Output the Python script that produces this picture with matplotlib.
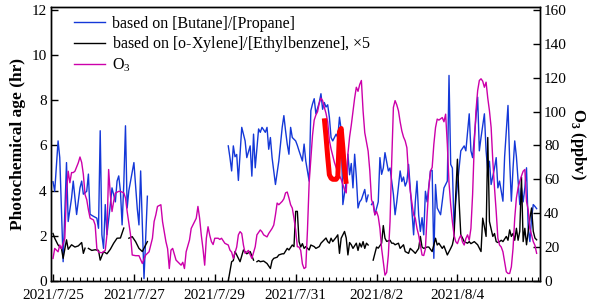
import matplotlib.pyplot as plt
import numpy as np
import pandas as pd

plt.rcParams['font.family'] = ['Liberation Serif', 'DejaVu Serif']
plt.rcParams['mathtext.fontset'] = 'custom'
plt.rcParams['mathtext.rm'] = 'Liberation Serif'
plt.rcParams['mathtext.bf'] = 'Liberation Serif:bold'

nan = np.nan
start = pd.Timestamp('2021-07-25')

# all times in hours since 2021/7/25 00:00
# [Butane]/[Propane] photochemical age (hr)
bp_hours = [0, 1, 3, 4, 6, 8, 9, 11, 12, 14, 16, 17, 18, 20, 21, 22, 24, 26, 27, 28,
            29, 30, 31, 32, 34, 35, 37, 38, 39, 40, 41, 42, 43, 44, 45, 48, 50, 51, 52, 54, 56,
            80,
            104, 105, 106, 107, 108, 109, 110, 112, 114, 115, 117, 118, 119, 120, 122, 123, 124, 126, 127, 128,
            129, 130, 132, 134, 136, 137, 138, 139, 140, 141, 142, 144, 145, 146, 148, 149, 150, 152, 153, 154,
            155, 156, 158, 159, 160, 161, 162, 163, 164, 165, 166, 168, 169, 170, 171, 172, 174, 175, 176, 177,
            178, 179, 180, 181, 182, 183, 185, 186, 187,
            188,
            189, 190, 191, 193, 194, 195, 196, 197, 199, 200, 201, 202, 203, 204, 206, 207, 208, 209, 210, 211,
            212, 214, 215, 216, 217, 218, 219, 220, 221, 222, 224, 225, 226, 227, 228, 230, 232, 233, 234, 235,
            236, 237, 238, 239, 240, 242, 244, 245, 247, 248, 249, 250, 252, 253, 254, 256, 257, 258, 259, 260,
            262, 263, 264, 265, 267, 268, 270, 271, 272, 273, 274, 275, 277, 278, 279, 280, 281, 282, 283, 284,
            285, 286, 287]
bp_vals = [4.39, 3.97, 6.2, 5.46, 0.85, 5.24, 2.63, 3.67, 4.42, 2.94, 4.12, 4.42, 3.84, 3.97, 4.73, 2.95, 2.86, 2.78, 2.33, 6.65,
           2.04, 1.44, 3.38, 2.05, 3.38, 4.12, 3.5, 4.42, 4.65, 3.97, 2.48, 4.3, 6.87, 3.23, 4.0, 5.24, 3.2, 2.48, 4.87, 0.1, 3.75,
           nan,
           5.98, 5.46, 4.87, 5.98, 5.5, 5.6, 4.45, 6.8, 6.2, 5.46, 5.98, 4.64, 6.5, 5.01, 6.73, 6.58, 6.8, 6.58, 6.8, 5.83,
           6.35, 5.46, 4.27, 5.31, 6.8, 7.32, 6.65, 6.06, 5.61, 6.8, 6.35, 6.2, 6.0, 5.76, 5.31, 6.06, 5.31, 4.42, 7.54, 7.84,
           8.07, 7.4, 7.9, 8.29, 7.6, 7.9, 7.7, 7.8, 7.25, 6.35, 6.2, 6.5, 6.35, 7.25, 6.7, 3.38, 4.4, 5.61, 4.7, 5.2,
           4.12, 5.61, 4.6, 3.23, 3.5, 3.6, 4.05, 3.5, 3.8,
           nan,
           3.38, 3.5, 2.93, 3.5, 5.46, 4.72, 5.0, 5.68, 4.87, 5.0, 4.42, 3.83, 2.93, 3.5, 4.87, 4.4, 4.6, 4.2, 4.4, 5.16,
           4.1, 2.04, 3.5, 4.42, 2.9, 2.19, 2.8, 2.04, 3.97, 3.5, 4.87, 4.9, 1.0, 4.27, 3.23, 2.93, 4.12, 4.27, 4.42, 9.1,
           5.16, 5.0, 2.33, 3.5, 4.27, 5.76, 5.98, 5.76, 7.4, 5.76, 5.46, 6.35, 8.14, 5.76, 6.35, 7.4, 5.76, 4.87, 5.3, 4.27,
           5.0, 5.46, 4.12, 4.42, 3.53, 5.5, 7.77, 5.3, 3.53, 5.0, 6.2, 5.5, 3.38, 4.12, 3.5, 4.12, 5.01, 2.33, 1.74, 2.8,
           3.38, 3.3, 3.2]

# [o-Xylene]/[Ethylbenzene] photochemical age x5 (hr)
xe_hours = [0, 1, 3, 5, 6, 7, 8, 9, 11, 13, 15, 17, 18, 19, 20,
            21, 23, 25, 27, 28, 30, 32, 34, 36, 38, 40, 41, 42, 43,
            45, 47, 49, 51, 53, 55, 56, 80,
            104, 106, 107, 108, 110, 111, 113, 115, 117, 119, 120,
            121, 122, 123, 125, 127, 129, 130, 131, 133, 134, 136, 137, 139, 140, 142, 143, 144, 145, 146, 147,
            148, 149, 150, 152, 153, 155, 156, 158, 159, 161, 162, 163, 164, 165, 166, 168, 169, 170, 171, 173,
            174, 175, 176, 177, 178, 180, 181, 182, 183, 184, 185, 186, 187, 188,
            190, 192, 193, 195, 196, 197, 198, 200, 201, 202, 203, 205, 206, 208, 209, 211, 212, 214, 215, 217,
            218, 219, 220, 222, 223, 225, 226, 227, 228, 229, 231, 232, 234, 236, 237, 238, 239, 240, 241, 242,
            243, 244, 246, 247, 248, 250, 252, 254, 255, 256, 257, 258, 259, 260, 261, 262, 263, 264, 265, 266,
            267, 269, 270, 271, 272, 273, 274, 275, 276, 277, 278, 279, 280, 281, 282, 283, 284, 285, 286, 287]
xe_vals = [2.1, 1.89, 1.59, 1.44, 1.0, 1.4, 1.82, 1.4, 1.6, 1.5, 1.55, 1.7, 1.22, 1.45, nan,
           1.44, 1.35, 1.38, 1.35, 0.92, 1.3, 1.2, 1.4, 1.67, 1.89, 1.9, 2.12, 2.34, nan,
           1.89, 1.96, 1.74, 1.44, 1.3, 1.59, 1.74, nan,
           0.0, 0.85, 0.9, 1.3, 1.0, 0.85, 1.37, 1.2, 1.3, 0.92, nan,
           0.85, 0.9, 0.85, 0.88, 0.77, 0.55, 0.9, 1.0, 1.05, 1.15, 1.2, 1.2, 1.44, 1.37, 1.59, 1.52, 3.08, 3.08, 1.74, 1.5,
           1.65, 1.44, 1.52, 1.37, 1.59, 1.52, 1.44, 1.52, 1.67, 1.82, 1.9, 1.74, 1.67, 1.89, 1.74, 1.93, 2.04, 1.22, 1.89, 2.19,
           1.9, 1.15, 1.7, 1.6, 1.44, 1.67, 1.35, 1.67, 1.5, 1.74, 1.44, 1.67, 1.59, nan,
           0.92, 1.5, 1.45, 1.67, 2.45, 1.89, 1.75, 1.8, 1.67, 1.67, 1.6, 1.67, 1.44, 1.6, 1.3, 1.22, 1.44, 1.3, 1.22, 1.44,
           1.97, 1.5, 1.44, 1.5, 1.5, 1.3, 1.59, 1.89, 1.59, 1.67, 1.44, 1.55, 1.15, 1.44, 1.6, 1.96, 3.83, 5.39, 3.5, 2.04,
           1.9, 1.74, 1.67, 1.74, 1.65, 1.74, 1.6, 1.3, 2.78, 2.4, 1.97, 6.35, 2.63, 2.3, 1.97, 2.1, 1.74, 1.7, 1.74, 1.8,
           1.74, 1.97, 1.8, 2.26, 1.97, 2.1, 1.8, 2.33, 1.8, 2.2, 4.6, 1.74, 2.33, 1.6, 2.2, 2.78, 3.23, 2.2, 1.9, 1.82]

# O3 (ppbv), right axis
o3_hours = [0, 1, 3, 4, 5, 7, 8, 9, 10, 11, 12, 13, 15, 16, 17, 18, 19, 20, 21, 22,
            24, 25, 26, 27, 29, 31, 32, 33, 34, 35, 36, 37, 39, 40, 42, 43, 44, 46, 47, 49,
            51, 53, 55, 57, 59, 60, 61, 62, 64, 65, 67, 68, 69, 70, 71, 73, 74, 76, 77, 78,
            79, 81, 82, 84, 85, 86, 87, 88, 89, 90, 91, 92, 93, 94, 95, 96, 98, 99, 100, 102,
            104, 105, 106, 107, 109, 110, 111, 112, 113, 114, 116, 117, 118, 120, 121, 123, 124, 125, 127, 128,
            130, 131, 132, 133, 134, 136, 137, 138, 139, 140, 141, 142, 143, 144, 145, 146, 147, 148, 149, 150,
            151, 152, 153, 154, 155, 156, 157, 158, 159, 160, 161, 162, 163, 164, 165, 166, 167, 168, 169, 170,
            171, 172, 173, 174, 175, 176, 177, 178, 179, 180, 181, 182, 183, 184, 185, 186, 187, 188, 189, 190,
            191, 192, 193, 194, 195, 196, 197, 198, 199, 200, 201, 202, 203, 204, 205, 206, 207, 208, 209, 210,
            211, 212, 213, 214, 215, 216, 217, 218, 219, 220, 221, 222, 223, 224, 225, 226, 227, 228, 229, 231,
            232, 233, 234, 235, 236, 237, 238, 239, 240, 241, 242, 243, 244, 245, 246, 247, 248, 249, 250, 251,
            252, 253, 254, 255, 256, 257, 258, 259, 260, 261, 262, 263, 264, 265, 266, 267, 268, 269, 270, 271,
            272, 273, 274, 275, 276, 277, 278, 279, 280, 281, 282, 283, 284, 285, 286, 287]
o3_vals = [13.3, 19.2, 17.2, 21.2, 19, 25.2, 52.9, 64.8, 58, 64, 64, 64.8, 69.8, 73.2, 70, 62.9, 51, 48, 42, 37.1,
           36, 33.1, 19.2, 17, 16.6, 18, 27.2, 65.8, 51, 41, 47, 51.9, 52.9, 52.9, 52, 49, 41, 27.2, 15.3, 14.9,
           14.9, 10.3, 15.3, 17.2, 25.2, 35.1, 39, 44, 45, 35, 23.2, 19, 7.3, 18.2, 19.2, 12.3, 11.3, 9.3, 11, 7.3,
           17.2, 24.2, 31, 35, 37, 44, 37, 27, 19, 9.3, 25.2, 32, 27, 23.2, 21.5, 25.2, 25.2, 24.5, 25.2, 22.2,
           21.2, 18.2, 17, 13.3, 20, 27.2, 29.1, 28, 21.2, 16.3, 18, 15.5, 13.3, 20.2, 27.2, 30.1, 29, 27.2, 26, 28,
           31, 33, 39, 46, 45, 47, 48.5, 52, 52.5, 49, 45, 43, 37, 30, 20.2, 20, 18, 10, 7.3, 8,
           30, 58, 72, 86, 95, 98, 100, 105, 108, 106.5, 102.5, 99, 94, 83, 78, 74, 70, 67, 64, 62,
           60, 57, 54, 52, 75, 85, 92, 100, 108, 114.4, 112, 116, 118.4, 100.5, 87.6, 82, 76.7, 65, 48, 45,
           39, 41, 38, 31, 19.2, 11.3, 3.4, 5, 15.3, 35, 70.8, 102.5, 106.5, 104, 100.5, 94, 88.6, 85, 82.7, 78.7,
           63, 53, 46, 39, 37, 31, 27, 21.2, 15.3, 15, 19, 39, 55, 65, 67, 80.7, 90.6, 95.6, 95, 96.5,
           94, 98.5, 80.7, 58, 45, 35, 27, 23.2, 22, 25, 27, 23, 21.2, 25, 27.2, 24, 31, 51, 80.7, 100.5,
           112.4, 118.4, 119.4, 118, 114.4, 117.4, 108, 100.5, 90.6, 70.8, 55, 41, 25.2, 21.2, 20, 17.2, 11.3, 5.4, 4.4, 4.4,
           8.3, 19.2, 37, 49, 55, 58.9, 62, 64.8, 65.8, 47, 42, 31, 27, 23.2, 21, 16.3]

# highlighted [Butane]/[Propane] episode
hl_hours = [161, 162, 163, 164, 165, 166, 167, 168, 169, 170, 171, 172, 173, 174]
hl_vals = [7.2, 6.4, 5.5, 4.7, 4.55, 4.5, 4.5, 4.5, 4.6, 6.6, 6.75, 5.9, 4.9, 4.3]

tick_days = ['2021-07-25', '2021-07-27', '2021-07-29', '2021-07-31', '2021-08-02', '2021-08-04']
tick_labels = ['2021/7/25', '2021/7/27', '2021/7/29', '2021/7/31', '2021/8/2', '2021/8/4']


def to_time(hours):
    return start + pd.to_timedelta(np.asarray(hours, dtype=float), unit='h')


fig, ax = plt.subplots(figsize=(6, 3.05), dpi=100)
fig.subplots_adjust(left=0.085, right=0.9, top=0.977, bottom=0.079)
ax2 = ax.twinx()

l1, = ax.plot(to_time(bp_hours), bp_vals, color='#1438d8', lw=1.0,
              label='based on [Butane]/[Propane]')
l2, = ax.plot(to_time(xe_hours), xe_vals, color='black', lw=1.0,
              label=r'based on [o-Xylene]/[Ethylbenzene], $\times$5')
l3, = ax2.plot(to_time(o3_hours), o3_vals, color='#cc00aa', lw=1.0, label='O$_3$')
# red segment is in left-axis units but drawn on top of everything
ax2.plot(to_time(hl_hours), hl_vals, color='red', lw=3.6, transform=ax.transData,
         solid_capstyle='butt', zorder=5)

ax.set_xlim(start - pd.Timedelta(hours=1.2), start + pd.Timedelta(hours=289))
ax.set_ylim(0, 12.13)
ax2.set_ylim(0, 161.8)
ax.set_yticks(range(0, 13, 2))
ax2.set_yticks(range(0, 161, 20))

ax.set_xticks(pd.to_datetime(tick_days))
ax.set_xticklabels(tick_labels)
ax.set_xticks(pd.date_range('2021-07-25', '2021-08-06', freq='4h'), minor=True)

for a in (ax, ax2):
    a.tick_params(direction='in', length=5, width=1.0, labelsize=11)
    a.tick_params(which='minor', direction='in', length=3, width=0.8)
    for s in a.spines.values():
        s.set_linewidth(1.0)
ax.tick_params(axis='x', pad=5.5)
ax.tick_params(axis='y', pad=3)
ax2.tick_params(axis='y', pad=3)

ax.set_ylabel('Photochemical age (hr)', fontsize=12.5, fontweight='bold', labelpad=4)
ax2.set_ylabel(r'O$_\mathbf{3}$ (ppbv)', fontsize=12, fontweight='bold', rotation=270, labelpad=15)

ax2.legend(handles=[l1, l2, l3], loc='upper left', bbox_to_anchor=(0.018, 1.02),
           frameon=False, fontsize=11.5, handlelength=1.9, handletextpad=0.45,
           labelspacing=0.15)

fig.savefig('out.png', dpi=100)
